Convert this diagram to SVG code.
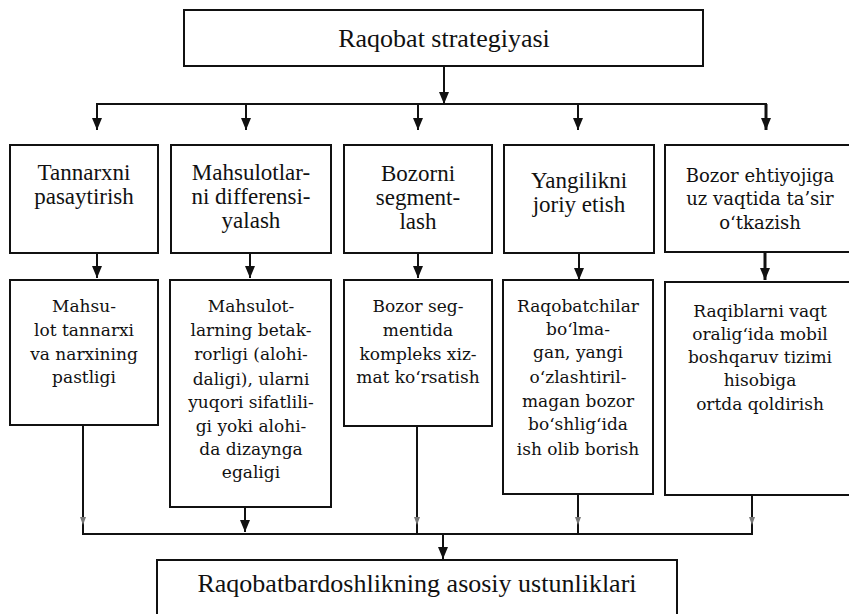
<svg xmlns="http://www.w3.org/2000/svg" width="849" height="614" viewBox="0 0 849 614">
<defs>
<marker id="ah" viewBox="0 0 12 10" refX="12" refY="5" markerWidth="12" markerHeight="10" markerUnits="userSpaceOnUse" orient="auto">
<path d="M0,0 L12,5 L0,10 Z" fill="#111"/>
</marker>
<marker id="ahs" viewBox="0 0 8 6" refX="8" refY="3" markerWidth="8" markerHeight="6" markerUnits="userSpaceOnUse" orient="auto">
<path d="M0,0 L8,3 L0,6 Z" fill="#777"/>
</marker>
<style>
rect{fill:#fff;stroke:#111;stroke-width:2}
.t1{font-family:"Liberation Serif",serif;font-size:23px;fill:#111;text-anchor:middle}
.t2{font-family:"DejaVu Serif",serif;font-size:17px;fill:#111;text-anchor:middle}
.t3{font-family:"DejaVu Serif",serif;font-size:18px;fill:#111;text-anchor:middle}
.tb{font-family:"Liberation Serif",serif;font-size:26px;fill:#111;text-anchor:middle}
.c line,.c path{stroke:#111;stroke-width:2;fill:none}
</style>
</defs>
<rect x="0" y="0" width="849" height="614" style="fill:#fff;stroke:none"/>
<g id="connectors" class="c">
<line x1="444" y1="66" x2="444" y2="104" marker-end="url(#ah)"/>
<line x1="96" y1="104" x2="767" y2="104"/>
<line x1="97" y1="104" x2="97" y2="130" marker-end="url(#ah)"/>
<line x1="246" y1="104" x2="246" y2="130" marker-end="url(#ah)"/>
<line x1="418" y1="104" x2="418" y2="130" marker-end="url(#ah)"/>
<line x1="578" y1="104" x2="578" y2="130" marker-end="url(#ah)"/>
<line x1="766" y1="104" x2="766" y2="130" marker-end="url(#ah)" style="stroke-width:3"/>
<line x1="97" y1="253" x2="97" y2="278" marker-end="url(#ah)"/>
<line x1="250" y1="253" x2="250" y2="278" marker-end="url(#ah)"/>
<line x1="418" y1="253" x2="418" y2="278" marker-end="url(#ah)"/>
<line x1="579" y1="253" x2="579" y2="280" marker-end="url(#ah)"/>
<line x1="765" y1="253" x2="765" y2="280" marker-end="url(#ah)" style="stroke-width:3"/>
<line x1="83" y1="425" x2="83" y2="534"/>
<line x1="417" y1="426" x2="417" y2="534"/>
<line x1="578" y1="494" x2="578" y2="534"/>
<line x1="752" y1="495" x2="752" y2="534"/>
<line x1="83" y1="515" x2="83" y2="525" marker-end="url(#ahs)"/>
<line x1="417" y1="515" x2="417" y2="525" marker-end="url(#ahs)"/>
<line x1="578" y1="515" x2="578" y2="525" marker-end="url(#ahs)"/>
<line x1="752" y1="515" x2="752" y2="525" marker-end="url(#ahs)"/>
<line x1="245" y1="507" x2="245" y2="532" marker-end="url(#ah)"/>
<line x1="82" y1="534" x2="753" y2="534"/>
<line x1="443" y1="534" x2="443" y2="559" marker-end="url(#ah)"/>
</g>
<g id="top">
<rect x="184" y="10" width="519" height="56"/>
<text class="tb" x="444" y="47">Raqobat strategiyasi</text>
</g>
<g id="s1">
<rect x="10" y="145" width="148" height="108"/>
<text class="t1" x="84" y="180">Tannarxni</text>
<text class="t1" x="84" y="204">pasaytirish</text>
</g>
<g id="s2">
<rect x="171" y="145" width="160" height="108"/>
<text class="t1" x="251" y="180">Mahsulotlar-</text>
<text class="t1" x="251" y="204">ni differensi-</text>
<text class="t1" x="251" y="228">yalash</text>
</g>
<g id="s3">
<rect x="344" y="145" width="148" height="108"/>
<text class="t1" x="418" y="181">Bozorni</text>
<text class="t1" x="418" y="205">segment-</text>
<text class="t1" x="418" y="229">lash</text>
</g>
<g id="s4">
<rect x="504" y="145" width="150" height="108"/>
<text class="t1" x="579" y="188">Yangilikni</text>
<text class="t1" x="579" y="212">joriy etish</text>
</g>
<g id="s5">
<rect x="665" y="145" width="190" height="107"/>
<text class="t3" x="760" y="182">Bozor ehtiyojiga</text>
<text class="t3" x="760" y="205">uz vaqtida ta’sir</text>
<text class="t3" x="760" y="229">o‘tkazish</text>
</g>
<g id="r1">
<rect x="10" y="280" width="148" height="145"/>
<text class="t2" x="84" y="312">Mahsu-</text>
<text class="t2" x="84" y="336">lot tannarxi</text>
<text class="t2" x="84" y="360">va narxining</text>
<text class="t2" x="84" y="383">pastligi</text>
</g>
<g id="r2">
<rect x="170" y="280" width="161" height="227"/>
<text class="t2" x="251" y="312">Mahsulot-</text>
<text class="t2" x="251" y="336">larning betak-</text>
<text class="t2" x="251" y="360">rorligi (alohi-</text>
<text class="t2" x="251" y="385">daligi), ularni</text>
<text class="t2" x="251" y="408">yuqori sifatlili-</text>
<text class="t2" x="251" y="432">gi yoki alohi-</text>
<text class="t2" x="251" y="455">da dizaynga</text>
<text class="t2" x="251" y="478">egaligi</text>
</g>
<g id="r3">
<rect x="344" y="280" width="148" height="146"/>
<text class="t2" x="418" y="312">Bozor seg-</text>
<text class="t2" x="418" y="336">mentida</text>
<text class="t2" x="418" y="360">kompleks xiz-</text>
<text class="t2" x="418" y="383">mat ko‘rsatish</text>
</g>
<g id="r4">
<rect x="503" y="280" width="150" height="214"/>
<text class="t2" x="578" y="312">Raqobatchilar</text>
<text class="t2" x="578" y="335">bo‘lma-</text>
<text class="t2" x="578" y="358">gan, yangi</text>
<text class="t2" x="578" y="383">o‘zlashtiril-</text>
<text class="t2" x="578" y="407">magan bozor</text>
<text class="t2" x="578" y="430">bo‘shlig‘ida</text>
<text class="t2" x="578" y="455">ish olib borish</text>
</g>
<g id="r5">
<rect x="665" y="282" width="190" height="213"/>
<text class="t2" x="760" y="317">Raqiblarni vaqt</text>
<text class="t2" x="760" y="340">oralig‘ida mobil</text>
<text class="t2" x="760" y="363">boshqaruv tizimi</text>
<text class="t2" x="760" y="386">hisobiga</text>
<text class="t2" x="760" y="410">ortda qoldirish</text>
</g>
<g id="bottom">
<rect x="157" y="560" width="520" height="60"/>
<text class="tb" x="417" y="592">Raqobatbardoshlikning asosiy ustunliklari</text>
</g>
</svg>
